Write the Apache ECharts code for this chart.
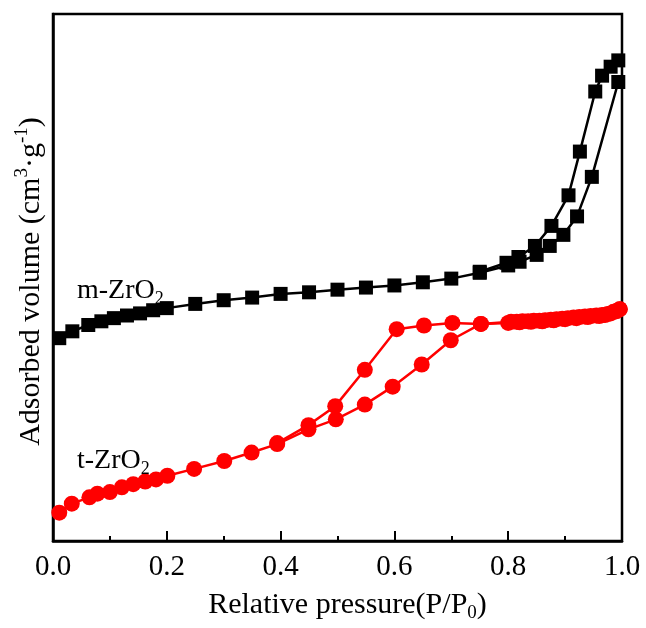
<!DOCTYPE html>
<html>
<head>
<meta charset="utf-8">
<script src="https://cdn.jsdelivr.net/npm/echarts@6/dist/echarts.min.js"></script>
<style>html,body{margin:0;padding:0;background:#fff}#c{width:646px;height:628px}</style>
</head>
<body>
<div id="c"></div>
<script>
// x tick labels
const xTicks = [0.0, 0.2, 0.4, 0.6, 0.8, 1.0];
// m-ZrO2 adsorption branch
const mAdsX = [0.011,0.034,0.062,0.085,0.107,0.13,0.153,0.176,0.2,0.25,0.3,0.35,0.4,0.45,0.5,0.55,0.6,0.65,0.7,0.75,0.8,0.82,0.85,0.873,0.897,0.921,0.947,0.9935];
const mAdsV = [38.5,39.8,41.0,41.7,42.3,42.8,43.2,43.8,44.2,45.0,45.7,46.2,46.9,47.2,47.7,48.1,48.5,49.1,49.8,50.9,52.3,53.0,54.3,56.0,58.1,61.6,69.1,87.1];
// m-ZrO2 desorption branch
const mDesX = [0.9935,0.98,0.965,0.953,0.926,0.906,0.876,0.847,0.818,0.797,0.75];
const mDesV = [91.2,90.0,88.3,85.3,73.9,65.6,59.8,56.0,53.9,52.8,51.1];
// t-ZrO2 adsorption branch
const tAdsX = [0.011,0.033,0.064,0.078,0.1,0.121,0.141,0.162,0.181,0.201,0.248,0.301,0.349,0.394,0.449,0.497,0.548,0.597,0.648,0.699,0.752,0.8,0.82,0.84,0.86,0.88,0.9,0.92,0.94,0.96,0.97,0.98,0.99,0.996];
const tAdsV = [5.4,7.1,8.3,9.0,9.3,10.2,10.8,11.3,11.7,12.4,13.7,15.2,16.8,18.4,21.2,23.1,25.9,29.3,33.5,38.1,41.2,41.4,41.5,41.6,41.7,41.9,42.1,42.3,42.5,42.7,42.9,43.2,43.6,44.0];
// t-ZrO2 desorption branch
const tDesX = [0.996,0.985,0.975,0.965,0.955,0.945,0.935,0.925,0.915,0.905,0.895,0.885,0.875,0.865,0.855,0.845,0.835,0.825,0.815,0.805,0.752,0.702,0.652,0.604,0.548,0.496,0.449,0.394];
const tDesV = [44.0,43.5,43.1,42.9,42.8,42.7,42.6,42.5,42.4,42.3,42.2,42.1,42.0,41.9,41.8,41.8,41.7,41.7,41.6,41.6,41.2,41.4,40.9,40.2,32.5,25.6,22.0,18.6];

const zip = (xs, ys) => xs.map((x, i) => [x, ys[i]]);
const FONT = '"Liberation Serif", "Times New Roman", serif';
const BLACK = '#000000', RED = '#ff0000';

const chart = echarts.init(document.getElementById('c'), null, {renderer: 'canvas'});

function lineSeries(name, data, color, symbol, size) {
  return {
    name, type: 'line', data, animation: false,
    symbol, symbolSize: size,
    lineStyle: {color, width: 2.5},
    itemStyle: {color, borderWidth: 0},
    z: 3
  };
}

chart.setOption({
  backgroundColor: '#ffffff',
  animation: false,
  grid: {left: 53, right: 24, top: 14, bottom: 82, show: true, borderColor: '#000', borderWidth: 2.5, backgroundColor: 'transparent'},
  xAxis: {
    type: 'value', min: 0, max: 1, interval: 0.2,
    axisLine: {show: true, lineStyle: {color: '#000', width: 2.5}},
    axisTick: {show: true, inside: true, length: 10, lineStyle: {color: '#000', width: 2}},
    minorTick: {show: true, splitNumber: 2, length: 5, lineStyle: {color: '#000', width: 2}},
    splitLine: {show: false},
    axisLabel: {
      margin: 12, color: '#000', fontFamily: FONT, fontSize: 29,
      formatter: v => { const t = xTicks.find(k => Math.abs(k - v) < 1e-9); return t === undefined ? '' : t.toFixed(1); }
    },
    name: '{n|Relative pressure(P/P}{s|0}{n|)}',
    nameLocation: 'middle', nameGap: 44,
    nameTextStyle: {
      color: '#000', fontFamily: FONT, fontSize: 30,
      padding: [0, 0, 0, 20],
      rich: {
        n: {fontFamily: FONT, fontSize: 30, color: '#000', lineHeight: 32},
        s: {fontFamily: FONT, fontSize: 19, color: '#000', lineHeight: 19, padding: [17, 0, 0, 0]}
      }
    }
  },
  yAxis: {
    type: 'value', min: 0, max: 100,
    axisLine: {show: true, lineStyle: {color: '#000', width: 2.5}},
    axisTick: {show: false},
    axisLabel: {show: false},
    splitLine: {show: false},
    name: '{n|Adsorbed volume (cm}{p|3}{n|·g}{p|-1}{n|)}',
    nameLocation: 'middle', nameGap: 6,
    nameTextStyle: {
      color: '#000', fontFamily: FONT, fontSize: 30,
      padding: [0, 8, 0, 0],
      rich: {
        n: {fontFamily: FONT, fontSize: 30, color: '#000', lineHeight: 32},
        p: {fontFamily: FONT, fontSize: 19, color: '#000', lineHeight: 19, padding: [0, 0, 17, 0]}
      }
    }
  },
  graphic: [
    {type: 'text', left: 77, top: 274, z: 10, style: {
      text: '{n|m-ZrO}{s|2}', fill: '#000',
      rich: {
        n: {fontFamily: FONT, fontSize: 28, fill: '#000', lineHeight: 30},
        s: {fontFamily: FONT, fontSize: 18, fill: '#000', lineHeight: 18, padding: [16, 0, 0, 0]}
      }}},
    {type: 'text', left: 77, top: 444, z: 10, style: {
      text: '{n|t-ZrO}{s|2}', fill: '#000',
      rich: {
        n: {fontFamily: FONT, fontSize: 28, fill: '#000', lineHeight: 30},
        s: {fontFamily: FONT, fontSize: 18, fill: '#000', lineHeight: 18, padding: [16, 0, 0, 0]}
      }}}
  ],
  series: [
    lineSeries('m-ZrO2 adsorption', zip(mAdsX, mAdsV), BLACK, 'rect', 14),
    lineSeries('m-ZrO2 desorption', zip(mDesX, mDesV), BLACK, 'rect', 14),
    lineSeries('t-ZrO2 adsorption', zip(tAdsX, tAdsV), RED, 'circle', 16),
    lineSeries('t-ZrO2 desorption', zip(tDesX, tDesV), RED, 'circle', 16)
  ]
});
</script>
</body>
</html>
